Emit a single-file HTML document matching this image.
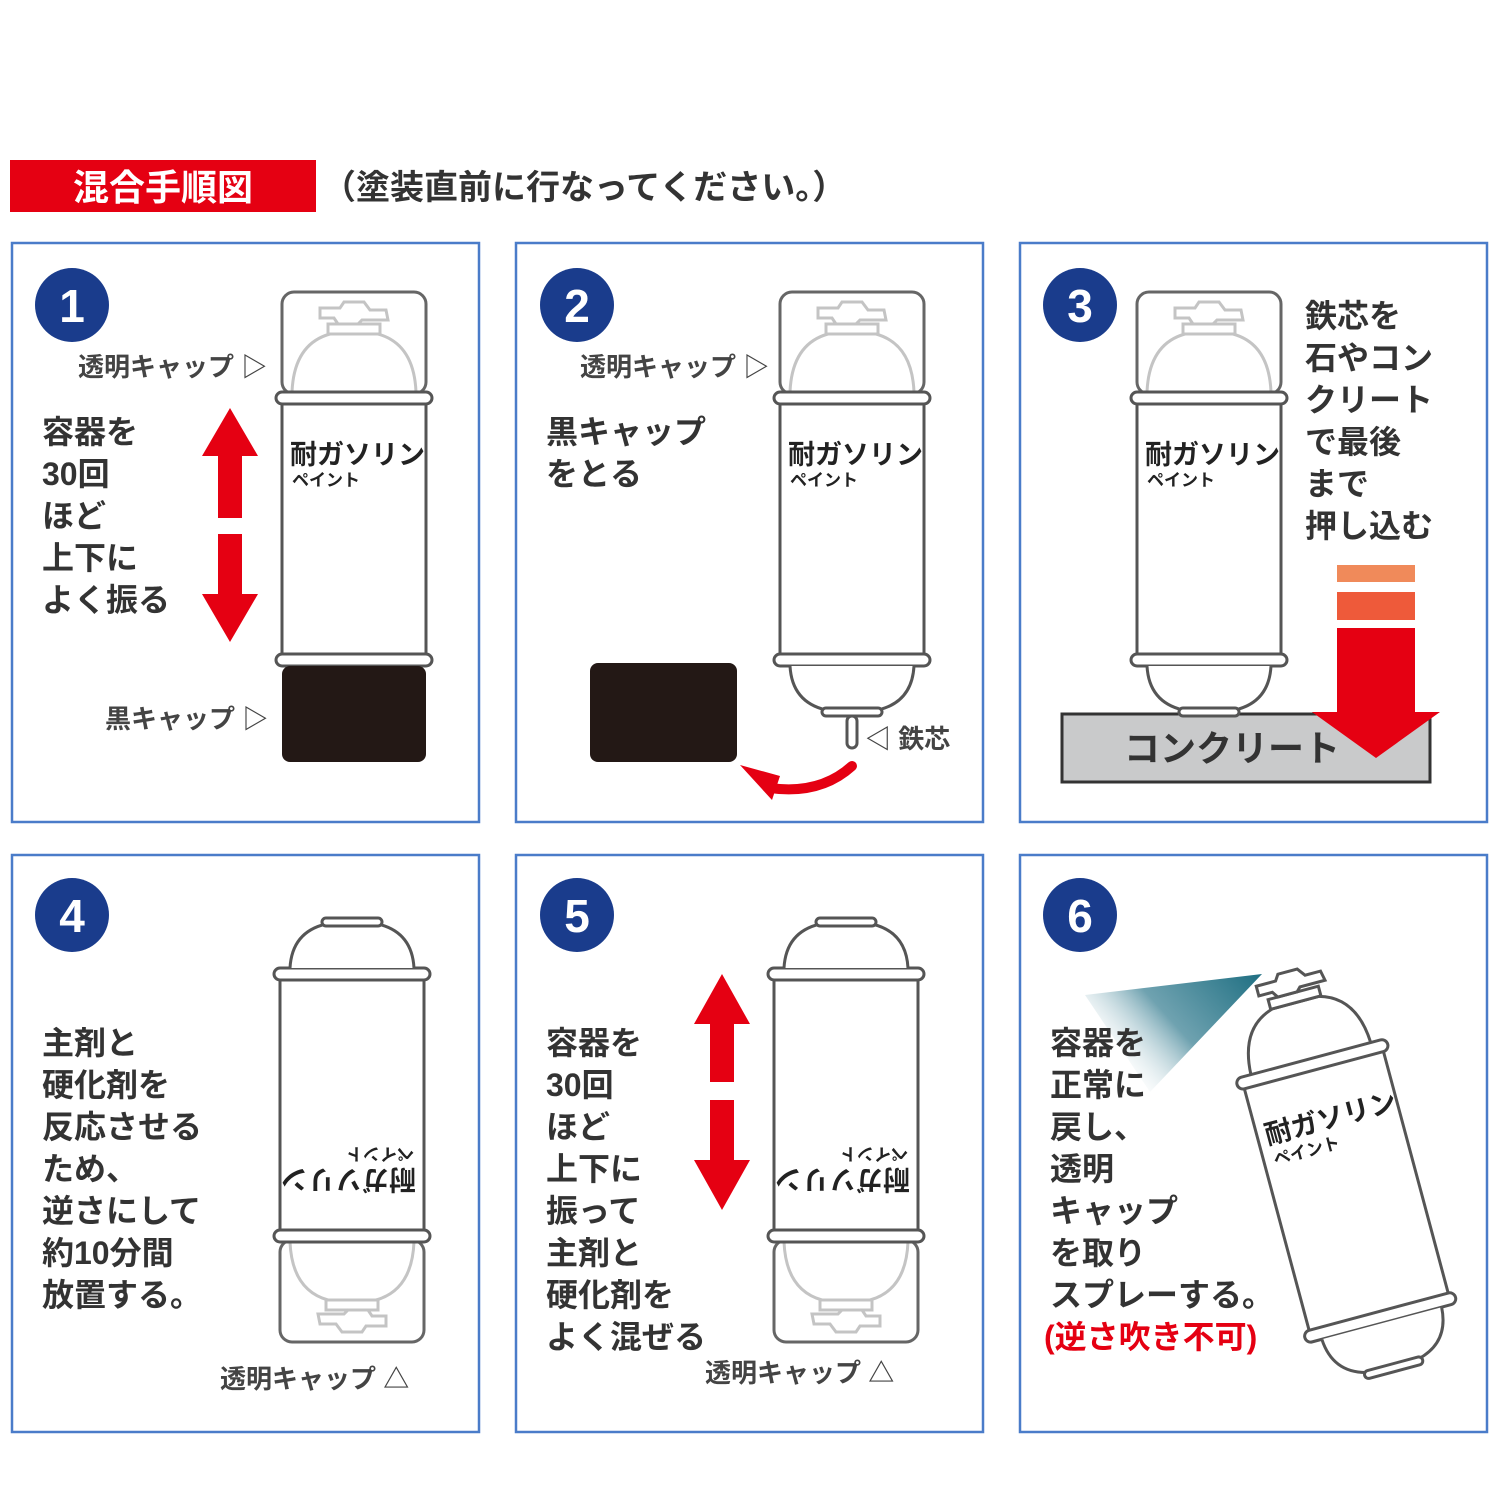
<!DOCTYPE html>
<html><head><meta charset="utf-8">
<style>
html,body{margin:0;padding:0;background:#fff;}
svg{display:block;}
text{font-family:"Liberation Sans","Noto Sans CJK JP",sans-serif;font-weight:bold;}
.t{font-size:32px;fill:#333;}
.s{font-size:26px;fill:#444;}
.n{font-size:46px;fill:#fff;text-anchor:middle;}
</style></head><body>
<svg width="1500" height="1500" viewBox="0 0 1500 1500" xmlns="http://www.w3.org/2000/svg">
<defs>
<linearGradient id="sp" x1="1" y1="0" x2="0" y2="0.6">
<stop offset="0" stop-color="#1f6f82"/><stop offset="0.55" stop-color="#6fa2b0"/><stop offset="1" stop-color="#fff" stop-opacity="0"/>
</linearGradient>
<g id="capT">
<rect x="4" y="0" width="144" height="102" rx="12" fill="#fff" stroke="#666" stroke-width="3"/>
<path d="M14,100 Q16,52 52,42 L100,42 Q136,52 138,100" fill="none" stroke="#c4c4c4" stroke-width="3"/>
<rect x="50" y="32" width="52" height="10" fill="none" stroke="#c4c4c4" stroke-width="3"/>
<path d="M42,16 L62,16 L66,10 L86,10 L92,18 L108,18 L110,28 L84,28 L80,32 L60,32 L56,26 L42,26 Z" fill="none" stroke="#c4c4c4" stroke-width="3"/>
</g>
<g id="body">
<rect x="4" y="108" width="144" height="258" fill="#fff" stroke="#555" stroke-width="3"/>
<rect x="-2" y="100" width="156" height="12" rx="6" fill="#fff" stroke="#555" stroke-width="3"/>
<rect x="-2" y="362" width="156" height="12" rx="6" fill="#fff" stroke="#555" stroke-width="3"/>
</g>
<g id="dome">
<path d="M14,374 Q16,410 50,418 L102,418 Q136,410 138,374" fill="#fff" stroke="#555" stroke-width="3"/>
<rect x="46" y="416" width="60" height="8" rx="4" fill="#fff" stroke="#555" stroke-width="3"/>
</g>
</defs>

<rect x="10" y="160" width="306" height="52" fill="#e50012"/>
<text x="163" y="200" font-size="36" fill="#fff" text-anchor="middle">混合手順図</text>
<text x="322" y="199" font-size="34" fill="#333">（塗装直前に行なってください。）</text>

<g fill="none" stroke="#4a7cc9" stroke-width="2.5">
<rect x="12" y="243" width="467" height="579"/>
<rect x="516" y="243" width="467" height="579"/>
<rect x="1020" y="243" width="467" height="579"/>
<rect x="12" y="855" width="467" height="577"/>
<rect x="516" y="855" width="467" height="577"/>
<rect x="1020" y="855" width="467" height="577"/>
</g>

<g fill="#1a3c8c">
<circle cx="72" cy="305" r="37"/><circle cx="577" cy="305" r="37"/><circle cx="1080" cy="305" r="37"/>
<circle cx="72" cy="915" r="37"/><circle cx="577" cy="915" r="37"/><circle cx="1080" cy="915" r="37"/>
</g>
<text class="n" x="72" y="322">1</text><text class="n" x="577" y="322">2</text><text class="n" x="1080" y="322">3</text>
<text class="n" x="72" y="932">4</text><text class="n" x="577" y="932">5</text><text class="n" x="1080" y="932">6</text>

<g transform="translate(278,292)">
<use href="#capT"/><use href="#body"/>
<rect x="4" y="374" width="144" height="96" rx="8" fill="#231815"/>
<text x="12" y="172" font-size="27" fill="#222">耐ガソリン</text>
<text x="14" y="194" font-size="17" fill="#222">ペイント</text>
</g>
<text class="s" x="78" y="376">透明キャップ ▷</text>
<text class="s" x="105" y="728">黒キャップ ▷</text>
<g class="t"><text x="42" y="443">容器を</text><text x="42" y="485">30回</text><text x="42" y="527">ほど</text><text x="42" y="569">上下に</text><text x="42" y="611">よく振る</text></g>
<g fill="#e50012">
<polygon points="230,408 202,456 218,456 218,518 242,518 242,456 258,456"/>
<polygon points="230,642 202,594 218,594 218,534 242,534 242,594 258,594"/>
</g>

<g transform="translate(776,292)">
<use href="#capT"/><use href="#body"/><use href="#dome"/>
<rect x="71" y="424" width="10" height="32" rx="5" fill="#fff" stroke="#555" stroke-width="3"/>
<text x="12" y="172" font-size="27" fill="#222">耐ガソリン</text>
<text x="14" y="194" font-size="17" fill="#222">ペイント</text>
</g>
<rect x="590" y="663" width="147" height="99" rx="8" fill="#231815"/>
<text class="s" x="580" y="376">透明キャップ ▷</text>
<g class="t"><text x="546" y="443">黒キャップ</text><text x="546" y="485">をとる</text></g>
<text class="s" x="865" y="748">◁ 鉄芯</text>
<path d="M852,766 Q820,795 770,788" fill="none" stroke="#e50012" stroke-width="10" stroke-linecap="round"/>
<polygon points="740,765 780,776 772,800" fill="#e50012"/>

<rect x="1062" y="714" width="368" height="68" fill="#c9cacb" stroke="#333" stroke-width="3"/>
<text x="1232" y="761" font-size="36" fill="#333" text-anchor="middle">コンクリート</text>
<g transform="translate(1133,292)">
<use href="#capT"/><use href="#body"/><use href="#dome"/>
<text x="12" y="172" font-size="27" fill="#222">耐ガソリン</text>
<text x="14" y="194" font-size="17" fill="#222">ペイント</text>
</g>
<g class="t"><text x="1305" y="327">鉄芯を</text><text x="1305" y="369">石やコン</text><text x="1305" y="411">クリート</text><text x="1305" y="453">で最後</text><text x="1305" y="495">まで</text><text x="1305" y="537">押し込む</text></g>
<rect x="1337" y="565" width="78" height="17" fill="#f08a5a"/>
<rect x="1337" y="592" width="78" height="28" fill="#ee5a3a"/>
<polygon points="1337,628 1415,628 1415,712 1440,712 1376,758 1312,712 1337,712" fill="#e50012"/>

<g transform="translate(428,1342) rotate(180)">
<use href="#capT"/><use href="#body"/><use href="#dome"/>
<text x="12" y="172" font-size="27" fill="#222">耐ガソリン</text>
<text x="14" y="194" font-size="17" fill="#222">ペイント</text>
</g>
<g class="t"><text x="42" y="1054">主剤と</text><text x="42" y="1096">硬化剤を</text><text x="42" y="1138">反応させる</text><text x="42" y="1180">ため、</text><text x="42" y="1222">逆さにして</text><text x="42" y="1264">約10分間</text><text x="42" y="1306">放置する。</text></g>
<text class="s" x="220" y="1388">透明キャップ △</text>

<g transform="translate(922,1342) rotate(180)">
<use href="#capT"/><use href="#body"/><use href="#dome"/>
<text x="12" y="172" font-size="27" fill="#222">耐ガソリン</text>
<text x="14" y="194" font-size="17" fill="#222">ペイント</text>
</g>
<g class="t"><text x="546" y="1054">容器を</text><text x="546" y="1096">30回</text><text x="546" y="1138">ほど</text><text x="546" y="1180">上下に</text><text x="546" y="1222">振って</text><text x="546" y="1264">主剤と</text><text x="546" y="1306">硬化剤を</text><text x="546" y="1348">よく混ぜる</text></g>
<text class="s" x="705" y="1382">透明キャップ △</text>
<g fill="#e50012">
<polygon points="722,974 694,1024 710,1024 710,1082 734,1082 734,1024 750,1024"/>
<polygon points="722,1210 694,1160 710,1160 710,1100 734,1100 734,1160 750,1160"/>
</g>

<polygon points="1262,974 1085,995 1150,1092" fill="url(#sp)"/>
<g transform="translate(1338,1160) rotate(-15) translate(-76,-205)">
<path d="M14,100 Q16,52 52,42 L100,42 Q136,52 138,100" fill="#fff" stroke="#555" stroke-width="3"/>
<rect x="50" y="32" width="52" height="10" fill="#fff" stroke="#555" stroke-width="3"/>
<path d="M42,16 L62,16 L66,10 L86,10 L92,18 L108,18 L110,28 L84,28 L80,32 L60,32 L56,26 L42,26 Z" fill="#fff" stroke="#555" stroke-width="3"/>
<use href="#body"/><use href="#dome"/>
<text x="12" y="172" font-size="27" fill="#222">耐ガソリン</text>
<text x="14" y="194" font-size="17" fill="#222">ペイント</text>
</g>
<g class="t"><text x="1050" y="1054">容器を</text><text x="1050" y="1096">正常に</text><text x="1050" y="1138">戻し、</text><text x="1050" y="1180">透明</text><text x="1050" y="1222">キャップ</text><text x="1050" y="1264">を取り</text><text x="1050" y="1306">スプレーする。</text></g>
<text x="1044" y="1348" font-size="32" fill="#e50012">(逆さ吹き不可)</text>
</svg>
</body></html>
